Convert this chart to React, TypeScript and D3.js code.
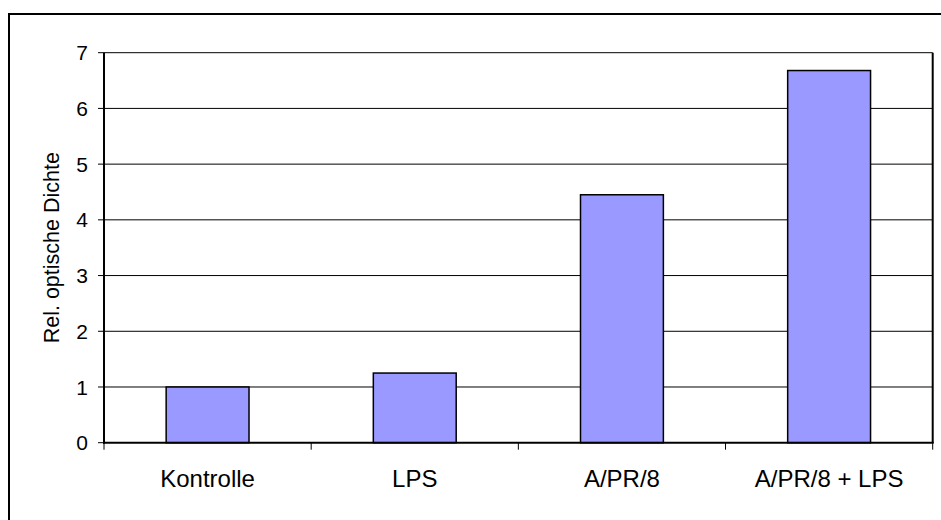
import React from "react";
import * as d3 from "d3";

// Chart data
const categories: string[] = ["Kontrolle", "LPS", "A/PR/8", "A/PR/8 + LPS"];
const values: number[] = [1.0, 1.25, 4.45, 6.68];
const yTicks: number[] = [0, 1, 2, 3, 4, 5, 6, 7];
const yTitle = "Rel. optische Dichte";

const W = 941;
const H = 520;
const plot = { left: 104, right: 932.7, top: 52.7, bottom: 442.7 };
const FONT = "'Liberation Sans', Arial, sans-serif";

export default function App() {
  const x = d3
    .scaleBand<string>()
    .domain(categories)
    .range([plot.left, plot.right])
    .paddingInner(0.6)
    .paddingOuter(0.3);
  const band = d3.scaleBand<string>().domain(categories).range([plot.left, plot.right]);
  const y = d3.scaleLinear().domain([0, 7]).range([plot.bottom, plot.top]);

  const boundaries = d3.range(categories.length + 1).map(
    (i) => plot.left + i * band.step()
  );

  return (
    <svg
      width={W}
      height={H}
      style={{ position: "absolute", left: 0, top: 0, background: "#fff" }}
    >
      {/* outer chart frame */}
      <rect x={9} y={14} width={1000} height={1000} fill="#fff" stroke="#000" strokeWidth={2} />

      {/* gridlines */}
      {yTicks.slice(1).map((t) => (
        <line key={t} x1={plot.left} x2={plot.right} y1={y(t)} y2={y(t)} stroke="#000" strokeWidth={1} />
      ))}

      {/* plot area right border */}
      <line x1={plot.right} x2={plot.right} y1={plot.top} y2={plot.bottom} stroke="#000" strokeWidth={2} />

      {/* bars */}
      {categories.map((c, i) => (
        <rect
          key={c}
          x={x(c)}
          y={y(values[i])}
          width={x.bandwidth()}
          height={y(0) - y(values[i])}
          fill="#9999FF"
          stroke="#000"
          strokeWidth={1.5}
        />
      ))}

      {/* y axis */}
      <line x1={plot.left} x2={plot.left} y1={plot.top} y2={plot.bottom + 1} stroke="#000" strokeWidth={2} />
      {yTicks.map((t) => (
        <g key={t}>
          <line x1={plot.left - 6} x2={plot.left} y1={y(t)} y2={y(t)} stroke="#000" strokeWidth={1} />
          <text
            x={88}
            y={y(t)}
            dy="0.36em"
            textAnchor="end"
            fontFamily={FONT}
            fontSize={21}
            fill="#000"
          >
            {t}
          </text>
        </g>
      ))}

      {/* x axis */}
      <line x1={plot.left - 1} x2={plot.right + 1} y1={plot.bottom} y2={plot.bottom} stroke="#000" strokeWidth={2} />
      {boundaries.map((b, i) => (
        <line key={i} x1={b} x2={b} y1={plot.bottom} y2={plot.bottom + 7} stroke="#000" strokeWidth={1} />
      ))}
      {categories.map((c) => (
        <text
          key={c}
          x={(band(c) as number) + band.step() / 2}
          y={487}
          textAnchor="middle"
          fontFamily={FONT}
          fontSize={24}
          fill="#000"
        >
          {c}
        </text>
      ))}

      {/* y axis title */}
      <text
        transform={`translate(59,${(plot.top + plot.bottom) / 2}) rotate(-90)`}
        textAnchor="middle"
        fontFamily={FONT}
        fontSize={21.5}
        fill="#000"
      >
        {yTitle}
      </text>
    </svg>
  );
}
